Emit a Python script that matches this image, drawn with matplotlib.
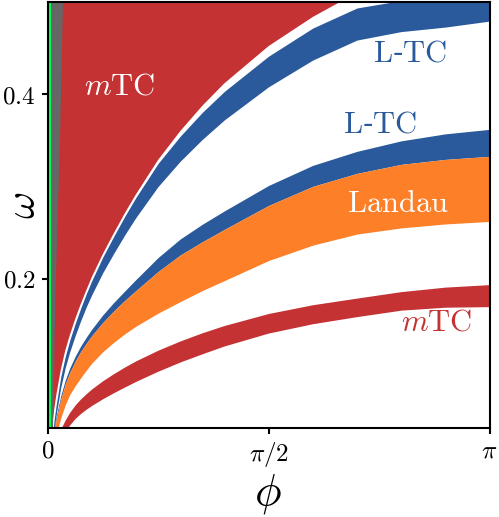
import numpy as np
import matplotlib
matplotlib.use("Agg")
import matplotlib.pyplot as plt

plt.rcParams['mathtext.fontset'] = 'cm'
plt.rcParams['font.family'] = ['DejaVu Serif']

# ---- data: phi in units of pi, omega values of the region boundaries ----
grid = [0.0, 0.005, 0.01, 0.015, 0.02, 0.03, 0.04, 0.05, 0.0625, 0.075, 0.0875,
        0.1, 0.125, 0.15, 0.175, 0.2, 0.25, 0.3, 0.35, 0.4, 0.5, 0.6, 0.7,
        0.8, 0.9, 1.0]

# big mTC region: lower boundary (phi up to 0.7 pi, then above the frame)
mtc_hi_lower = [0.0, 0.0196, 0.038, 0.0576, 0.0739, 0.1011, 0.1217, 0.138, 0.156,
                0.1722, 0.1871, 0.2014, 0.2265, 0.2492, 0.271, 0.2913, 0.3286,
                0.3598, 0.3873, 0.4117, 0.4521, 0.4837, 0.5101]
# upper L-TC band
ltc_hi_top = [0.0, 0.008, 0.025, 0.0467, 0.0641, 0.0935, 0.1152, 0.1326, 0.1511,
              0.1678, 0.1833, 0.1976, 0.2233, 0.246, 0.2677, 0.288, 0.3248,
              0.3543, 0.3802, 0.403, 0.4412, 0.4717, 0.4935, 0.5016, 0.5011,
              0.4995]
ltc_hi_bot = [0.0, 0.004, 0.0152, 0.037, 0.0533, 0.0821, 0.1033, 0.1201, 0.138,
              0.1542, 0.1691, 0.1824, 0.2064, 0.2275, 0.2476, 0.2663, 0.2998,
              0.3272, 0.3509, 0.3721, 0.408, 0.437, 0.4587, 0.4679, 0.4728,
              0.4793]
# lower L-TC band (sits on the Landau band)
ltc_lo_top = [0.0, 0.004, 0.02, 0.0373, 0.051, 0.073, 0.0897, 0.1027, 0.1157,
              0.1268, 0.1363, 0.1451, 0.1606, 0.1742, 0.1867, 0.199, 0.2228,
              0.2429, 0.2589, 0.2734, 0.301, 0.3228, 0.338, 0.3494, 0.357, 0.3619]
# Landau band
landau_top = [0.0, 0.0033, 0.0178, 0.0346, 0.0477, 0.0692, 0.0854, 0.0978, 0.1103,
              0.1208, 0.1298, 0.138, 0.1524, 0.165, 0.1764, 0.187, 0.2076,
              0.2255, 0.2399, 0.2533, 0.2793, 0.3, 0.3141, 0.3239, 0.3293, 0.3326]
landau_bot = [0.0, 0.002, 0.0087, 0.0196, 0.0304, 0.0489, 0.063, 0.0739, 0.0837,
              0.0924, 0.1005, 0.1082, 0.1207, 0.131, 0.1402, 0.1484, 0.1625,
              0.175, 0.187, 0.1978, 0.2196, 0.2363, 0.2483, 0.255, 0.2593, 0.262]
# lower mTC band
mtc_lo_top = [0.0, 0.0, 0.0, 0.008, 0.02, 0.037, 0.0467, 0.0549, 0.063, 0.0696,
              0.0752, 0.0804, 0.0893, 0.0971, 0.1043, 0.1109, 0.1224, 0.1324,
              0.1413, 0.1492, 0.1622, 0.1717, 0.1789, 0.1859, 0.1908, 0.1935]
mtc_lo_bot = [0.0, 0.0, 0.0, 0.0, 0.0, 0.02, 0.0335, 0.0413, 0.0484, 0.0538,
              0.0584, 0.0625, 0.0698, 0.0764, 0.0826, 0.0886, 0.0996, 0.1096,
              0.1185, 0.127, 0.141, 0.1511, 0.1588, 0.1658, 0.169, 0.1696]

# grey wedge (right edge) and green strip near phi = 0
grey_edge_phi = [0.0124, 0.0186, 0.0283, 0.0351]
grey_edge_omega = [0.038, 0.1935, 0.351, 0.501]
grey_left_phi = 0.0074
green_phi = [0.0018, 0.0074]

xticks = [0.0, 0.5, 1.0]
xticklabels = [r'$0$', r'$\pi/2$', r'$\pi$']
yticks = [0.2, 0.4]
yticklabels = [r'$0.2$', r'$0.4$']

RED = '#c53234'
BLUE = '#2a5a9b'
ORANGE = '#fd7f28'
GREY = '#666666'
GREEN = '#00ff55'

W, H = 499, 517
fig = plt.figure(figsize=(W/100, H/100), dpi=100)
x0, x1, ytop, ybot = 47.5, 489.5, 2.0, 428.0
ax = fig.add_axes([x0/W, 1-ybot/H, (x1-x0)/W, (ybot-ytop)/H])

g = np.pi * np.array(grid)
ymin, ymax = 0.038, 0.5

# big mTC region
n = len(mtc_hi_lower)
ax.fill_between(g[:n], mtc_hi_lower, 0.6, color=RED, lw=0)
# grey wedge
gp = np.pi * np.array(grey_edge_phi)
gx = np.concatenate([[np.pi*grey_left_phi, np.pi*grey_left_phi, gp[-1]], gp[::-1], [gp[0]]])
gy = np.concatenate([[0.0, 0.6, 0.6], grey_edge_omega[::-1], [0.0]])
ax.fill(gx, gy, color=GREY, lw=0)
# upper L-TC
ax.fill_between(g, ltc_hi_bot, ltc_hi_top, color=BLUE, lw=0)
# lower L-TC
ax.fill_between(g, landau_top, ltc_lo_top, color=BLUE, lw=0)
# Landau
ax.fill_between(g, landau_bot, landau_top, color=ORANGE, lw=0)
# lower mTC
ax.fill_between(g, mtc_lo_bot, mtc_lo_top, color=RED, lw=0)
# green strip
ax.axvspan(np.pi*green_phi[0], np.pi*green_phi[1], color=GREEN, lw=0)

ax.set_xlim(0, np.pi)
ax.set_ylim(ymin, ymax)
ax.set_xticks(np.pi*np.array(xticks))
ax.set_xticklabels(xticklabels, fontsize=18)
ax.set_yticks(yticks)
ax.set_yticklabels(yticklabels, fontsize=18)
ax.tick_params(direction='out', length=4.5, width=1.5, pad=4)
for s in ax.spines.values():
    s.set_linewidth(1.5)

def lab(xpx, ypx, s, c, fs=22, rot=0):
    fig.text(xpx/W, 1-ypx/H, s, color=c, fontsize=fs, ha='center', va='center',
             rotation=rot)

lab(268, 494, r'$\phi$', 'black', fs=32)
lab(23, 205, r'$\omega$', 'black', fs=30, rot=90)

lab(120, 86, r'$m\mathrm{TC}$', 'white')
lab(410, 53, r'$\mathrm{L}$-$\mathrm{TC}$', BLUE)
lab(380, 124, r'$\mathrm{L}$-$\mathrm{TC}$', BLUE)
lab(398, 203, r'$\mathrm{Landau}$', 'white')
lab(437, 322, r'$m\mathrm{TC}$', RED)

fig.savefig('out.png', dpi=100)
